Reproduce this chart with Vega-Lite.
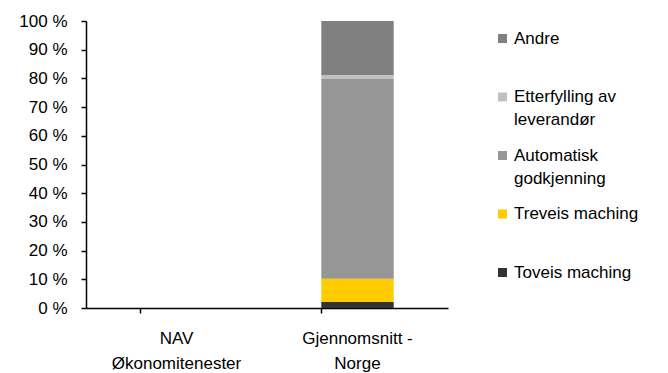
{
  "$schema": "https://vega.github.io/schema/vega-lite/v6.json",
  "width": 362,
  "height": 287,
  "autosize": {"type": "none"},
  "padding": {"left": 86, "top": 21, "right": 220, "bottom": 65},
  "background": "white",
  "config": {
    "view": {"stroke": null},
    "font": "Liberation Sans",
    "style": {"guide-label": {"lineHeight": 23}},
    "axis": {"labelFont": "Liberation Sans", "labelFontSize": 17, "labelColor": "#000000", "domainColor": "#000000", "tickColor": "#000000", "grid": false, "title": null}
  },
  "data": {
    "values": [
      {"kategori": "Gjennomsnitt - Norge", "type": "Toveis maching", "andel": 2.1, "rekke": 1},
      {"kategori": "Gjennomsnitt - Norge", "type": "Treveis maching", "andel": 8.1, "rekke": 2},
      {"kategori": "Gjennomsnitt - Norge", "type": "Automatisk godkjenning", "andel": 69.6, "rekke": 3},
      {"kategori": "Gjennomsnitt - Norge", "type": "Etterfylling av leverandør", "andel": 1.4, "rekke": 4},
      {"kategori": "Gjennomsnitt - Norge", "type": "Andre", "andel": 18.8, "rekke": 5}
    ]
  },
  "mark": {"type": "bar"},
  "encoding": {
    "x": {
      "field": "kategori",
      "type": "nominal",
      "scale": {"domain": ["NAV Økonomitenester", "Gjennomsnitt - Norge"], "paddingInner": 0.6, "paddingOuter": 0.3},
      "axis": {
        "labelAngle": 0,
        "bandPosition": 0,
        "tickSize": 5,
        "domainWidth": 1.5,
        "tickWidth": 1.5,
        "labelPadding": 17,
        "labelLineHeight": 25,
        "labelBaseline": "top",
        "labelExpr": "datum.label == 'NAV Økonomitenester' ? ['NAV', 'Økonomitenester'] : ['Gjennomsnitt -', 'Norge']"
      }
    },
    "y": {
      "field": "andel",
      "type": "quantitative",
      "stack": "zero",
      "scale": {"domain": [0, 100], "nice": false},
      "axis": {
        "values": [0, 10, 20, 30, 40, 50, 60, 70, 80, 90, 100],
        "labelExpr": "datum.value + ' %'",
        "tickSize": 5,
        "domainWidth": 1.5,
        "tickWidth": 1.5,
        "labelPadding": 14
      }
    },
    "order": {"field": "rekke", "type": "quantitative", "sort": "ascending"},
    "color": {
      "field": "type",
      "type": "nominal",
      "scale": {
        "domain": ["Andre", "Etterfylling av leverandør", "Automatisk godkjenning", "Treveis maching", "Toveis maching"],
        "range": ["#808080", "#C0C0C0", "#969696", "#FFCC00", "#333333"]
      },
      "legend": {
        "title": null,
        "orient": "none",
        "legendX": 408,
        "legendY": 9,
        "symbolType": "square",
        "symbolSize": 81,
        "symbolStrokeWidth": 0,
        "symbolOpacity": 1,
        "labelFont": "Liberation Sans",
        "labelFontSize": 17,
        "labelColor": "#000000",
        "labelOffset": 3,
        "labelBaseline": "middle",
        "rowPadding": 17.5,
        "labelLimit": 300,
        "labelExpr": "datum.label == 'Etterfylling av leverandør' ? ['Etterfylling av', 'leverandør'] : datum.label == 'Automatisk godkjenning' ? ['Automatisk', 'godkjenning'] : [datum.label, ' ']"
      }
    }
  }
}
